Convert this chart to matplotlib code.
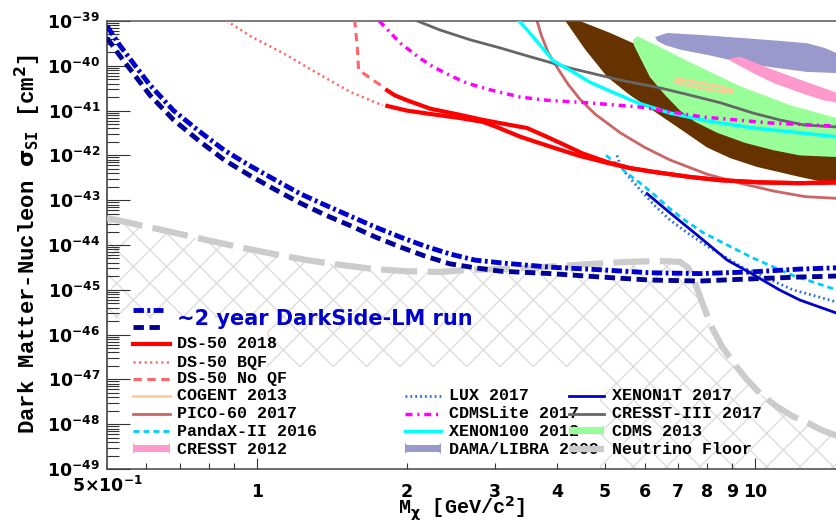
import matplotlib
matplotlib.use("Agg")
import matplotlib.pyplot as plt
import numpy as np
from matplotlib.lines import Line2D
from matplotlib.patches import FancyBboxPatch, Rectangle
from matplotlib.transforms import Affine2D
from matplotlib.ticker import FixedLocator, FuncFormatter, LogLocator, NullFormatter

plt.rcParams['lines.scale_dashes'] = False
plt.rcParams['hatch.linewidth'] = 1.0
plt.rcParams['font.family'] = 'DejaVu Sans'
plt.rcParams['font.weight'] = 'bold'

# ---------------- data (mass in GeV/c^2, cross section in cm^2) ----------------
# DarkSide-LM projections
lm_mass = [0.50, 0.53, 0.57, 0.61, 0.68, 0.77, 0.86, 0.97, 1.09, 1.22, 1.37, 1.54, 1.73,
           1.94, 2.17, 2.44, 2.74, 3.08, 3.88, 4.89, 6.15, 7.75, 9.77, 12.3, 14.6]
lm_dd_sigma = [7.7e-40, 2.9e-40, 9.9e-41, 3.7e-41, 1.0e-41, 3.3e-42, 1.3e-42, 5.8e-43, 2.8e-43,
               1.4e-43, 7.8e-44, 4.4e-44, 2.5e-44, 1.5e-44, 9.5e-45, 6.3e-45, 4.6e-45, 4.0e-45,
               3.2e-45, 2.8e-45, 2.4e-45, 2.3e-45, 2.5e-45, 2.9e-45, 3.1e-45]
lm_da_sigma = [4.2e-40, 1.7e-40, 5.9e-41, 2.2e-41, 6.2e-42, 2.0e-42, 7.9e-43, 3.5e-43, 1.7e-43,
               8.7e-44, 4.7e-44, 2.7e-44, 1.5e-44, 9.0e-45, 5.7e-45, 3.8e-45, 3.1e-45, 2.6e-45,
               2.3e-45, 1.93e-45, 1.65e-45, 1.57e-45, 1.75e-45, 1.93e-45, 2.03e-45]

# neutrino floor
floor_mass = [0.50, 0.58, 0.68, 0.79, 0.92, 1.08, 1.26, 1.47, 1.72, 2.00, 2.33, 2.68, 3.08, 3.48,
              4.06, 4.73, 5.53, 6.45, 7.07, 7.34, 7.58, 7.86, 8.20, 8.59, 9.12, 9.64, 10.3, 11.1,
              11.9, 12.7, 13.6, 14.6]
floor_sigma = [4.0e-44, 2.8e-44, 1.9e-44, 1.3e-44, 9.0e-45, 6.3e-45, 4.6e-45, 3.6e-45, 2.9e-45,
               2.6e-45, 2.5e-45, 2.8e-45, 2.9e-45, 3.1e-45, 3.4e-45, 3.8e-45, 4.2e-45, 4.4e-45,
               4.2e-45, 3.1e-45, 1.4e-45, 4.6e-46, 1.4e-46, 5.3e-47, 2.1e-47, 9.7e-48, 4.5e-48,
               2.4e-48, 1.5e-48, 1.1e-48, 7.4e-49, 5.5e-49]

# DS-50 2018 (two branches)
ds50_up_m = [1.81, 1.89, 2.00, 2.23, 2.56, 2.84, 3.15, 3.48, 3.79, 4.06, 4.51, 5.05, 5.61, 6.24,
             7.40, 8.51, 10.2, 12.3, 14.6]
ds50_up_s = [3.0e-41, 2.2e-41, 1.7e-41, 1.1e-41, 8.0e-42, 6.2e-42, 5.0e-42, 4.1e-42, 2.7e-42,
             1.9e-42, 1.1e-42, 7.1e-43, 5.2e-43, 4.3e-43, 3.3e-43, 2.8e-43, 2.5e-43, 2.4e-43, 2.5e-43]
ds50_lo_m = [1.81, 2.00, 2.23, 2.56, 2.84, 3.03, 3.38, 3.93, 4.45, 5.05, 5.61, 6.24, 7.40, 8.51,
             10.2, 12.3, 14.6]
ds50_lo_s = [1.3e-41, 1.0e-41, 8.4e-42, 6.8e-42, 5.6e-42, 4.3e-42, 2.6e-42, 1.5e-42, 9.7e-43,
             6.8e-43, 5.2e-43, 4.3e-43, 3.3e-43, 2.8e-43, 2.5e-43, 2.4e-43, 2.5e-43]
bqf_m = [0.85, 0.87, 0.97, 1.13, 1.32, 1.54, 1.79]
bqf_s = [1.2e-39, 1.0e-39, 4.6e-40, 1.9e-40, 6.9e-41, 2.6e-41, 1.3e-41]
noqf_m = [1.57, 1.59, 1.60, 1.71, 1.79]
noqf_s = [1.1e-39, 2.6e-40, 8.1e-41, 4.8e-41, 3.4e-41]

# other experiments
cdmslite_m = [1.76, 1.94, 2.12, 2.26, 2.48, 2.64, 2.94, 3.38, 3.82, 4.60, 5.88, 7.86, 10.7, 14.6]
cdmslite_s = [1.0e-39, 3.2e-40, 1.5e-40, 9.4e-41, 5.6e-41, 4.1e-41, 2.9e-41, 2.0e-41, 1.7e-41,
              1.5e-41, 1.2e-41, 7.2e-42, 5.3e-42, 4.5e-42]
cresst3_m = [2.10, 2.33, 2.68, 3.08, 3.53, 4.25, 5.36, 6.45, 7.30, 8.51, 9.91, 11.2, 12.5, 14.6]
cresst3_s = [1.0e-39, 6.3e-40, 3.8e-40, 2.5e-40, 1.6e-40, 8.9e-41, 4.8e-41, 3.2e-41, 2.3e-41,
             1.5e-41, 8.8e-42, 6.2e-42, 4.8e-42, 4.3e-42]
xenon100_m = [3.36, 3.53, 3.70, 3.93, 4.31, 4.66, 5.05, 5.80, 6.75, 8.01, 9.91, 12.3, 14.6]
xenon100_s = [1.0e-39, 5.4e-40, 2.9e-40, 1.3e-40, 7.3e-41, 4.3e-41, 2.9e-41, 1.5e-41, 8.8e-42,
              5.9e-42, 4.1e-42, 3.2e-42, 2.6e-42]
pico_m = [3.65, 3.72, 3.84, 4.00, 4.21, 4.45, 4.77, 5.36, 6.01, 6.75, 8.01, 9.33, 10.9, 12.6, 14.6]
pico_s = [1.0e-39, 4.9e-40, 2.0e-40, 9.4e-41, 3.9e-41, 1.8e-41, 8.4e-42, 3.2e-42, 1.5e-42,
          7.9e-43, 3.8e-43, 2.4e-43, 1.6e-43, 1.2e-43, 1.1e-43]
lux_m = [5.28, 5.36, 5.53, 5.88, 6.30, 6.75, 7.40, 8.12, 9.46, 10.7, 11.9, 13.2, 14.6]
lux_s = [1.0e-42, 6.1e-43, 3.7e-43, 1.7e-43, 7.4e-44, 3.6e-44, 1.7e-44, 8.6e-45, 3.1e-45,
         1.7e-45, 1.0e-45, 7.3e-46, 5.3e-46]
pandax_m = [5.02, 5.24, 5.53, 5.88, 6.24, 6.75, 7.30, 7.86, 8.51, 9.91, 11.9, 14.6]
pandax_s = [1.0e-42, 6.8e-43, 4.0e-43, 2.4e-43, 1.4e-43, 6.4e-44, 3.3e-44, 1.9e-44, 1.2e-44,
            5.1e-45, 2.1e-45, 9.9e-46]
xenon1t_m = [6.07, 6.75, 7.86, 8.79, 9.77, 11.2, 12.3, 14.6]
xenon1t_s = [1.4e-43, 5.2e-44, 1.3e-44, 4.6e-45, 2.4e-45, 9.9e-46, 5.9e-46, 3.0e-46]

# signal regions (closed contours)
cogent_m = [6.97, 7.65, 8.51, 8.99, 8.99, 8.01, 7.17, 6.91, 6.97]
cogent_s = [5.1e-41, 4.3e-41, 3.4e-41, 2.9e-41, 2.5e-41, 3.0e-41, 3.9e-41, 4.3e-41, 5.1e-41]
cdms_m = [5.69, 5.80, 6.01, 6.36, 7.40, 9.33, 11.8, 14.6, 16.0, 16.0, 14.6, 12.3, 10.9, 9.55,
          8.39, 7.58, 7.07, 6.60, 6.15, 5.88, 5.71]
cdms_s = [3.8e-40, 4.6e-40, 3.8e-40, 2.8e-40, 1.2e-40, 3.5e-41, 1.3e-41, 6.8e-42, 5.5e-42,
          8.5e-43, 9.2e-43, 1.0e-42, 1.3e-42, 1.9e-42, 3.2e-42, 5.6e-42, 1.0e-41, 2.2e-41,
          5.6e-41, 1.5e-40, 2.9e-40]
band_m = [4.16, 4.56, 5.05, 5.61, 6.24, 7.07, 8.01, 8.91, 10.1, 12.3, 14.6, 16.0, 16.0, 14.6,
          11.2, 9.33, 7.75, 6.75, 6.15, 5.69, 5.12, 4.45]
band_s = [1.0e-39, 2.3e-40, 5.6e-41, 2.2e-41, 1.0e-41, 3.9e-42, 1.5e-42, 8.7e-43, 5.5e-43,
          3.3e-43, 2.2e-43, 2.0e-43, 1.2e-42, 1.3e-42, 2.2e-42, 4.8e-42, 1.3e-41, 4.8e-41,
          1.7e-40, 3.2e-40, 5.4e-40, 1.0e-39]
dama_m = [6.30, 6.66, 7.75, 9.33, 11.2, 12.7, 13.8, 14.6, 15.5, 14.6, 12.7, 10.7, 9.33, 8.12,
          7.07, 6.60, 6.36]
dama_s = [4.4e-40, 5.4e-40, 4.9e-40, 4.2e-40, 3.6e-40, 3.2e-40, 2.5e-40, 1.9e-40, 1.2e-40,
          6.9e-41, 7.3e-41, 9.4e-41, 1.2e-40, 1.7e-40, 2.3e-40, 2.9e-40, 3.6e-40]
cresst_m = [8.82, 9.33, 10.5, 11.75, 13.2, 14.6, 15.3, 14.6, 13.7, 12.2, 10.9, 9.9, 9.03]
cresst_s = [1.4e-40, 1.6e-40, 9.4e-41, 5.9e-41, 3.7e-41, 2.5e-41, 1.7e-41, 1.5e-41, 1.7e-41,
            2.6e-41, 4.1e-41, 6.9e-41, 1.2e-40]

x_minor = [0.6, 0.7, 0.8, 0.9, 2, 3, 4, 5, 6, 7, 8, 9]

# ---------------- styles ----------------
st_dd = dict(color='#0000cc', lw=3.5, ls=(0, (7.5, 2.5, 2, 2.5)))
st_da = dict(color='#000099', lw=3.5, ls=(0, (7.5, 4)))
st = {
    'DS-50 2018': dict(color='#ff0000', lw=3),
    'DS-50 BQF': dict(color='#ff6666', lw=1.8, ls=(0, (1.5, 2.5))),
    'DS-50 No QF': dict(color='#ff6666', lw=2.2, ls=(0, (6, 4))),
    'COGENT 2013': dict(color='#ffcc99', lw=2),
    'PICO-60 2017': dict(color='#cc6666', lw=2),
    'PandaX-II 2016': dict(color='#00ccff', lw=2, ls=(0, (4.3, 2.9))),
    'LUX 2017': dict(color='#2a6fe0', lw=2, ls=(0, (1.3, 2.2))),
    'CDMSLite 2017': dict(color='#ff00ff', lw=2.5, ls=(0, (5, 3.5, 1.5, 3.5))),
    'XENON100 2012': dict(color='#00ffff', lw=2.5),
    'XENON1T 2017': dict(color='#0000cc', lw=2),
    'CRESST-III 2017': dict(color='#666666', lw=2),
    'Neutrino Floor': dict(color='#cccccc', lw=4.5, ls=(0, (26, 7.5))),
}
fills = {'CRESST 2012': '#ff99cc', 'DAMA/LIBRA 2009': '#9999cc', 'CDMS 2013': '#99ff99'}

fig = plt.figure(figsize=(8.37, 5.22), dpi=100)
ax = fig.add_axes([107 / 837, 53 / 522, 730 / 837, 448 / 522])
ax.set_xscale('log')
ax.set_yscale('log')
ax.set_xlim(0.5, 14.6)
ax.set_ylim(1e-49, 1e-39)

# neutrino floor hatch and legend backgrounds
ax.fill_between(floor_mass, floor_sigma, 1e-50, facecolor='none', edgecolor='#dddddd',
                hatch='x', linewidth=0, zorder=1)
ax.add_patch(Rectangle((0, 0), 160 / 730, 151 / 448, transform=ax.transAxes,
                       facecolor='white', edgecolor='none', zorder=1.5))
ax.add_patch(Rectangle((0, 0), 493 / 730, 102 / 448, transform=ax.transAxes,
                       facecolor='white', edgecolor='none', zorder=1.5))

# regions
ax.fill(band_m, band_s, color='#663300', lw=0, zorder=2)
ax.fill(cdms_m, cdms_s, color=fills['CDMS 2013'], lw=0, zorder=2.1)
ax.fill(dama_m, dama_s, color=fills['DAMA/LIBRA 2009'], lw=0, zorder=2.2)
ax.fill(cresst_m, cresst_s, color=fills['CRESST 2012'], lw=0, zorder=2.3)
ax.plot(cogent_m, cogent_s, zorder=2.4, **st['COGENT 2013'])

# limits
ax.plot(pico_m, pico_s, zorder=2.5, **st['PICO-60 2017'])
ax.plot(cresst3_m, cresst3_s, zorder=2.6, **st['CRESST-III 2017'])
ax.plot(xenon100_m, xenon100_s, zorder=2.7, **st['XENON100 2012'])
ax.plot(cdmslite_m, cdmslite_s, zorder=2.8, **st['CDMSLite 2017'])
ax.plot(lux_m, lux_s, zorder=2.9, **st['LUX 2017'])
ax.plot(pandax_m, pandax_s, zorder=2.9, **st['PandaX-II 2016'])
ax.plot(xenon1t_m, xenon1t_s, zorder=2.9, **st['XENON1T 2017'])
ax.plot(bqf_m, bqf_s, zorder=3, **st['DS-50 BQF'])
ax.plot(noqf_m, noqf_s, zorder=3, **st['DS-50 No QF'])
ax.plot(ds50_up_m, ds50_up_s, zorder=3, solid_capstyle='butt', **st['DS-50 2018'])
ax.plot(ds50_lo_m, ds50_lo_s, zorder=3, solid_capstyle='butt', **st['DS-50 2018'])
ax.plot(floor_mass, floor_sigma, zorder=3.1, **st['Neutrino Floor'])
ax.plot(lm_mass, lm_dd_sigma, zorder=3.2, **st_dd)
ax.plot(lm_mass, lm_da_sigma, zorder=3.2, **st_da)

# axes cosmetics
ax.spines['right'].set_visible(False)
ax.spines['left'].set_color('#333333')
ax.spines['top'].set_color('#555555')
ax.spines['bottom'].set_color('#444444')
for s in ['left', 'top', 'bottom']:
    ax.spines[s].set_linewidth(1.1)

ax.yaxis.set_major_locator(LogLocator(base=10, numticks=20))
ax.yaxis.set_minor_locator(LogLocator(base=10, subs=np.arange(2, 10), numticks=20))
ax.yaxis.set_major_formatter(FuncFormatter(lambda v, p: r'$\mathbf{10^{%d}}$' % round(np.log10(v))))
ax.yaxis.set_minor_formatter(NullFormatter())
ax.xaxis.set_major_locator(FixedLocator([1, 10]))
ax.xaxis.set_minor_locator(FixedLocator(x_minor))
ax.xaxis.set_major_formatter(FuncFormatter(lambda v, p: '%g' % v))
ax.xaxis.set_minor_formatter(FuncFormatter(lambda v, p: '%g' % v if v >= 2 else ''))

ax.tick_params(axis='both', which='both', direction='in', width=0.8, color='#333333',
               labelsize=12.5)
ax.tick_params(axis='y', which='major', length=16.5, pad=5)
ax.tick_params(axis='y', which='minor', length=8.6)
ax.tick_params(axis='x', which='major', length=8, pad=10)
ax.tick_params(axis='x', which='minor', length=4.3, pad=10)
ax.tick_params(top=False, right=False, which='both')

ax.text(0.5, -0.038, r'$\mathbf{5{\times}10^{-1}}$', transform=ax.get_xaxis_transform(),
        ha='center', va='center', fontsize=12.5)

ax.set_ylabel(r'Dark Matter-Nucleon $\mathrm{\sigma}_{\mathtt{SI}}$ [cm$^{\mathbf{2}}$]',
              fontfamily='Liberation Mono', fontweight='bold', fontsize=16)
ax.yaxis.set_label_coords(-0.088, 0.503)
ax.set_xlabel(r'M$_{\mathrm{\chi}}$ [GeV/c$^{\mathbf{2}}$]',
              fontfamily='Liberation Mono', fontweight='bold', fontsize=14.5)
ax.xaxis.set_label_coords(0.486, -0.058)

# ---------------- legend (drawn by hand, image pixel layout) ----------------
T = Affine2D().scale(1 / 837, -1 / 522).translate(0, 1) + fig.transFigure
lfont = dict(fontfamily='Liberation Mono', fontweight='bold', fontsize=12, va='center', ha='left')

fig.add_artist(Line2D([133, 163], [310, 310], transform=T, zorder=5, **st_dd))
fig.add_artist(Line2D([133, 163], [327, 327], transform=T, zorder=5, **st_da))
fig.text(177 / 837, 1 - 319 / 522, '~2 year DarkSide-LM run', color='#0000cc', fontsize=15,
         fontweight='bold', fontfamily='DejaVu Sans', va='center', ha='left')

columns = [
    (133, 170, 177, [('DS-50 2018', 344), ('DS-50 BQF', 362), ('DS-50 No QF', 379),
                     ('COGENT 2013', 396), ('PICO-60 2017', 414), ('PandaX-II 2016', 431),
                     ('CRESST 2012', 449)]),
    (405, 441, 449, [('LUX 2017', 396), ('CDMSLite 2017', 414), ('XENON100 2012', 431),
                     ('DAMA/LIBRA 2009', 449)]),
    (569, 604, 612, [('XENON1T 2017', 396), ('CRESST-III 2017', 414), ('CDMS 2013', 431),
                     ('Neutrino Floor', 449)]),
]
for ci, (x0, x1, xt, entries) in enumerate(columns):
    hz = 6 + ci
    for name, yy in entries:
        fig.text(xt / 837, 1 - yy / 522, name, zorder=4, **lfont)
        if name in fills:
            fig.add_artist(FancyBboxPatch((x0 + 2, yy + 5), x1 - x0 - 4, -11,
                                          boxstyle='round,pad=2,rounding_size=3', transform=T,
                                          facecolor=fills[name], edgecolor='none', zorder=hz))
        else:
            fig.add_artist(Line2D([x0, x1], [yy, yy], transform=T, zorder=hz, **st[name]))

fig.savefig('out.png', dpi=100)
